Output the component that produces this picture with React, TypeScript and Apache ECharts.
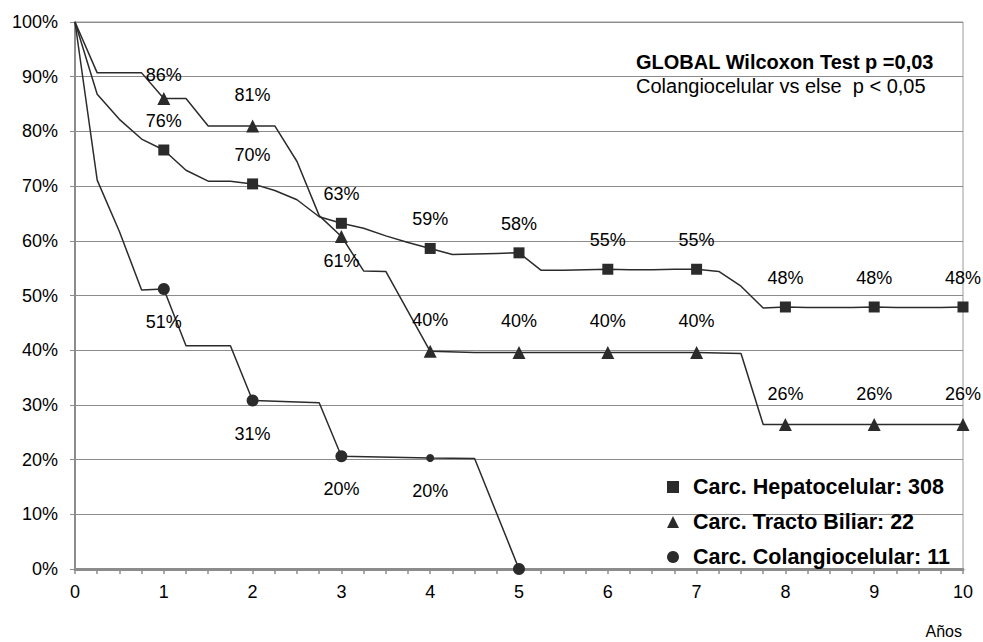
import React, { useEffect, useRef } from "react";
import * as echarts from "echarts";

// Kaplan-Meier survival curves (x: years, y: % survival)
const hepCurve: number[][] = [
  [0, 100], [0.25, 86.8], [0.5, 82.2], [0.75, 78.6], [1, 76.6], [1.25, 72.9], [1.5, 70.9], [1.75, 70.9],
  [2, 70.4], [2.25, 69.2], [2.5, 67.5], [2.75, 64.4], [3, 63.2], [3.25, 62.3], [3.5, 60.9], [3.75, 59.7],
  [4, 58.6], [4.25, 57.5], [4.5, 57.6], [4.75, 57.7], [5, 57.8], [5.25, 54.6], [5.5, 54.6], [5.75, 54.7],
  [6, 54.8], [6.25, 54.7], [6.5, 54.7], [6.75, 54.8], [7, 54.8], [7.25, 54.4], [7.5, 51.7], [7.75, 47.7],
  [8, 47.9], [8.25, 47.8], [8.5, 47.8], [8.75, 47.8], [9, 47.9], [9.25, 47.8], [9.5, 47.8], [9.75, 47.8],
  [10, 47.9],
];
const triCurve: number[][] = [
  [0, 100], [0.25, 90.7], [0.5, 90.7], [0.75, 90.7], [1, 86], [1.25, 86], [1.5, 81], [1.75, 81],
  [2, 81], [2.25, 81], [2.5, 74.5], [2.75, 64.6], [3, 60.8], [3.25, 54.5], [3.5, 54.4], [4, 39.8],
  [4.5, 39.6], [5, 39.6], [5.5, 39.6], [6, 39.6], [6.5, 39.6], [7, 39.6], [7.5, 39.4], [7.75, 26.4],
  [8, 26.4], [9, 26.4], [10, 26.4],
];
const colCurve: number[][] = [
  [0, 100], [0.25, 71.1], [0.5, 61.7], [0.75, 51], [1, 51.2], [1.25, 40.8], [1.75, 40.8], [2, 30.8],
  [2.75, 30.4], [3, 20.6], [4, 20.3], [4.5, 20.2], [5, 0],
];

// Yearly survival labels (years 1..)
const hepPct = [76, 70, 63, 59, 58, 55, 55, 48, 48, 48];
const triPct = [86, 81, 61, 40, 40, 40, 40, 26, 26, 26];
const colPct: (number | null)[] = [51, 31, 20, 20, null];

const seriesNames = [
  "Carc. Hepatocelular: 308",
  "Carc. Tracto Biliar: 22",
  "Carc. Colangiocelular: 11",
];
const yTicks = [0, 10, 20, 30, 40, 50, 60, 70, 80, 90, 100];

const LINE = "#2b2b2b";
const FONT = "'Liberation Sans', Arial, sans-serif";

function yearly(curve: number[][]) {
  return curve.filter((p) => Number.isInteger(p[0]) && p[0] >= 1);
}

export default function App() {
  const ref = useRef<HTMLDivElement>(null);
  useEffect(() => {
    if (!ref.current) return;
    const chart = echarts.init(ref.current, null, { renderer: "svg" });

    const labelBase = {
      show: true,
      position: ["50%", "50%"],
      align: "center",
      verticalAlign: "middle",
      color: "#000",
      textBorderWidth: 0,
      fontSize: 18,
      fontFamily: FONT,
    };

    const mk = (curve: number[][], pct: (number | null)[], offsetFor: (i: number) => number, sizeFor?: (i: number) => number) =>
      yearly(curve).map((p, i) => ({
        value: p,
        symbolSize: sizeFor ? sizeFor(i) : undefined,
        label: {
          ...labelBase,
          show: pct[i] != null,
          formatter: pct[i] != null ? `${pct[i]}%` : "",
          offset: [0, offsetFor(i)],
        },
      }));

    const lineSeries = (curve: number[][]) => ({
      type: "line",
      data: curve,
      showSymbol: false,
      symbol: "none",
      silent: true,
      lineStyle: { color: LINE, width: 1.5 },
      z: 2,
    });

    const markerStyle = { color: LINE, opacity: 1 };

    chart.setOption({
      animation: false,
      backgroundColor: "#fff",
      textStyle: { fontFamily: FONT },
      grid: {
        left: 75,
        right: 20,
        top: 22,
        bottom: 73,
        show: true,
        borderColor: "#9a9a9a",
        borderWidth: 1,
      },
      xAxis: {
        type: "value",
        min: 0,
        max: 10,
        interval: 1,
        axisLine: { show: true, lineStyle: { color: "#8c8c8c", width: 3 } },
        axisTick: { show: true, length: 5, lineStyle: { color: "#8c8c8c", width: 1.5 } },
        minorTick: { show: true, splitNumber: 4, length: 5, lineStyle: { color: "#8c8c8c", width: 1.5 } },
        splitLine: { show: false },
        axisLabel: { color: "#000", fontSize: 18, margin: 14, fontFamily: FONT },
      },
      yAxis: {
        type: "value",
        min: yTicks[0],
        max: yTicks[yTicks.length - 1],
        interval: 10,
        axisLine: { show: true, lineStyle: { color: "#8c8c8c", width: 2 } },
        axisTick: { show: true, length: 5, lineStyle: { color: "#8c8c8c" } },
        splitLine: { show: true, lineStyle: { color: "#8c8c8c", width: 1 } },
        axisLabel: { color: "#000", fontSize: 18, margin: 17, formatter: "{value}%", fontFamily: FONT },
      },
      legend: {
        data: seriesNames.map((n) => ({ name: n })),
        orient: "vertical",
        left: 662,
        top: 471,
        itemWidth: 12,
        itemHeight: 12,
        itemGap: 13,
        selectedMode: false,
        itemStyle: { opacity: 1 },
        textStyle: { color: "#000", fontSize: 21.5, fontWeight: "bold", fontFamily: FONT, padding: [0, 0, 0, 9] },
      },
      graphic: [
        {
          type: "text",
          left: 636,
          top: 52,
          style: { text: "GLOBAL Wilcoxon Test p =0,03", fill: "#000", font: `bold 20px ${FONT}` },
        },
        {
          type: "text",
          left: 636,
          top: 76,
          style: { text: "Colangiocelular vs else  p < 0,05", fill: "#000", font: `20px ${FONT}` },
        },
        {
          type: "text",
          right: 21,
          top: 623,
          style: { text: "Años", fill: "#000", font: `16px ${FONT}` },
        },
      ],
      series: [
        lineSeries(hepCurve),
        lineSeries(triCurve),
        lineSeries(colCurve),
        {
          name: seriesNames[0],
          type: "scatter",
          symbol: "rect",
          symbolSize: 11,
          itemStyle: markerStyle,
          label: labelBase,
          data: mk(hepCurve, hepPct, () => -29),
          z: 3,
        },
        {
          name: seriesNames[1],
          type: "scatter",
          symbol: "triangle",
          symbolSize: 13,
          itemStyle: markerStyle,
          label: labelBase,
          data: mk(triCurve, triPct, (i) => (i === 0 ? -24 : i === 2 ? 25 : -31)),
          z: 3,
        },
        {
          name: seriesNames[2],
          type: "scatter",
          symbol: "circle",
          symbolSize: 12,
          itemStyle: markerStyle,
          label: labelBase,
          data: mk(colCurve, colPct, () => 33, (i) => (i === 3 ? 8 : 12)),
          z: 3,
        },
      ],
    });
    return () => chart.dispose();
  }, []);
  return <div ref={ref} style={{ position: "fixed", left: 0, top: 0, width: 983, height: 642 }} />;
}
